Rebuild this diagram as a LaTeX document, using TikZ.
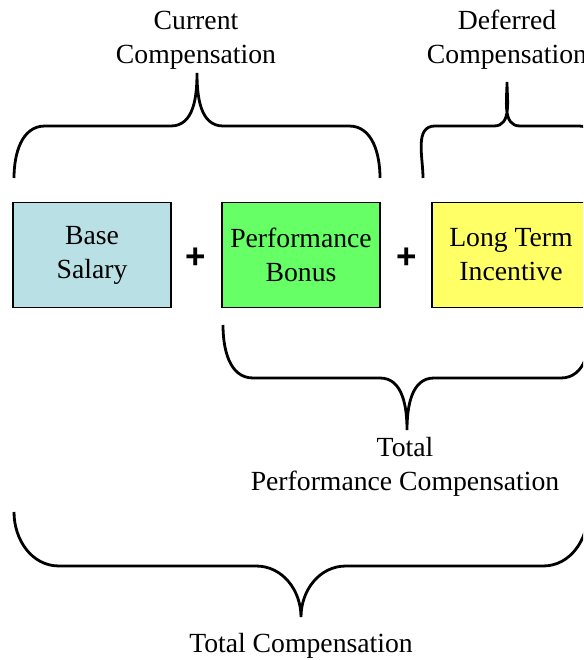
\documentclass[tikz,border=0pt]{standalone}
\usepackage{fontspec}
\setmainfont{Liberation Serif}
\newfontfamily\plusfont{Liberation Sans}
\definecolor{baseblue}{RGB}{185,224,228}
\definecolor{bonusgreen}{RGB}{102,255,102}
\definecolor{ltiyellow}{RGB}{255,255,102}
\begin{document}
\begin{tikzpicture}[x=1pt,y=1pt,
  compbox/.style={draw=black,line width=1.1pt,minimum width=158pt,minimum height=105pt,inner sep=0pt,align=center,font=\fontsize{27.7}{34}\selectfont},
  lbl/.style={align=center,font=\fontsize{27.7}{34}\selectfont,inner sep=0pt},
  plussign/.style={font=\plusfont\bfseries\fontsize{35}{35}\selectfont,inner sep=0pt},
  brace/.style={line width=2.8pt,line cap=butt}]
\useasboundingbox (0,0) rectangle (583,660);
\clip (0,0) rectangle (583,660);
\fill[white] (0,0) rectangle (583,660);
% boxes
\node[compbox,fill=baseblue] (base) at (92,405) {Base\\Salary};
\node[compbox,fill=bonusgreen] (bonus) at (301,405) {Performance\\Bonus};
\node[compbox,fill=ltiyellow] (lti) at (511,405) {Long Term\\Incentive};
\node[plussign] (plus1) at (196,402) {+};
\node[plussign] (plus2) at (407,402) {+};
% labels
\node[lbl] (cur) at (196,620) {Current\\Compensation};
\node[lbl] (def) at (507,620) {Deferred\\Compensation};
\node[lbl] (tpc) at (405,193) {Total\\Performance Compensation};
\node[lbl] (tc) at (301,14) {Total Compensation};
% braces
\draw[brace] (14,482) to[out=90,in=180] (45,534) -- (171,534) to[out=0,in=-90] (197,587)
  to[out=-90,in=180] (223,534) -- (349,534) to[out=0,in=90] (380,482);
\draw[brace] (423,482) to[out=90,in=180] (435,534) -- (494,534) to[out=0,in=-90] (507,578)
  to[out=-90,in=180] (520,534) -- (579,534) to[out=0,in=90] (591,482);
\draw[brace] (223,335) to[out=-90,in=180] (253,282) -- (380,282) to[out=0,in=90] (407,230)
  to[out=90,in=180] (434,282) -- (561,282) to[out=0,in=-90] (591,335);
\draw[brace] (14,148) to[out=-90,in=180] (59,94) -- (256,94) to[out=0,in=90] (301,43)
  to[out=90,in=180] (346,94) -- (543,94) to[out=0,in=-90] (588,148);
\end{tikzpicture}
\end{document}
